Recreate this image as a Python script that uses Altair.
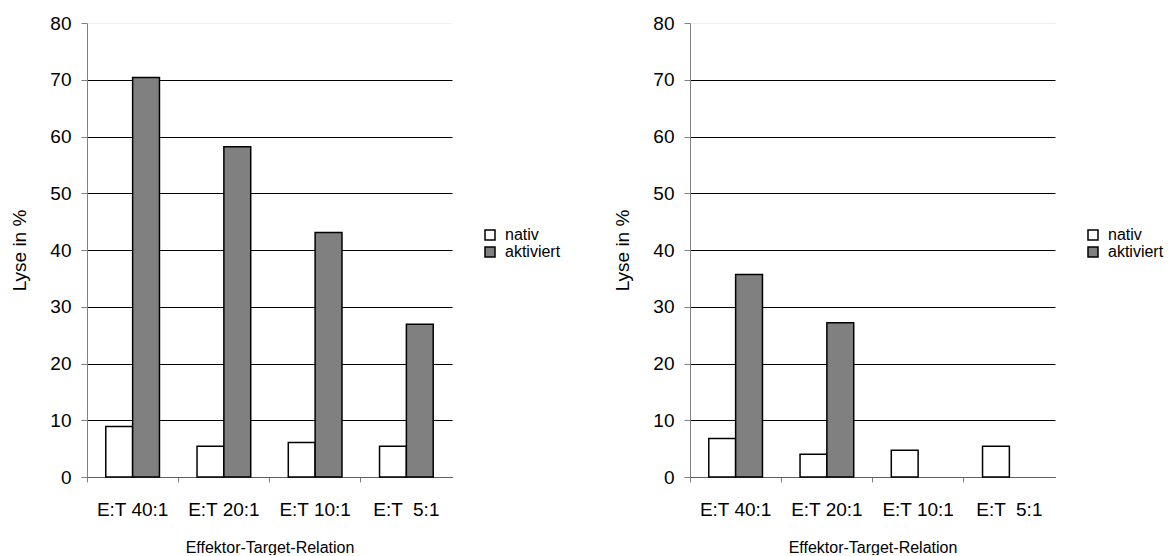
import altair as alt
import pandas as pd

categories = ["E:T 40:1", "E:T 20:1", "E:T 10:1", "E:T \u00a05:1"]
series = ["nativ", "aktiviert"]
left_nativ = [8.9, 5.4, 6.1, 5.4]
left_aktiviert = [70.4, 58.2, 43.1, 26.9]
right_nativ = [6.8, 4.0, 4.7, 5.4]
right_aktiviert = [35.7, 27.2, None, None]
y_ticks = [0, 10, 20, 30, 40, 50, 60, 70, 80]

FONT = "Liberation Sans"
W, H = 365, 454


def make_df(nativ, akt):
    rows = []
    for c, n, a in zip(categories, nativ, akt):
        rows.append({"cat": c, "serie": "nativ", "val": n})
        rows.append({"cat": c, "serie": "aktiviert", "val": a})
    return pd.DataFrame(rows)


def panel(nativ, akt):
    df = make_df(nativ, akt)
    return alt.Chart(df).mark_bar(stroke="black", strokeWidth=1.5).encode(
        x=alt.X(
            "cat:N",
            sort=categories,
            scale=alt.Scale(paddingInner=0, paddingOuter=0),
            axis=alt.Axis(
                title="Effektor-Target-Relation",
                labelAngle=0,
                bandPosition=0,
                labelFontSize=19,
                labelPadding=18,
                labelColor="black",
                tickColor="#808080",
                tickSize=5,
                domainColor="#606060",
                titleFontSize=16,
                titleFontWeight="normal",
                titlePadding=20,
                titleColor="black",
                grid=False,
            ),
        ),
        xOffset=alt.XOffset(
            "serie:N",
            sort=series,
            scale=alt.Scale(paddingInner=0, paddingOuter=0.7),
        ),
        y=alt.Y(
            "val:Q",
            scale=alt.Scale(domain=[0, 80], nice=False),
            axis=alt.Axis(
                title="Lyse in %",
                values=y_ticks,
                labelFontSize=19,
                labelPadding=10,
                labelColor="black",
                tickColor="#808080",
                tickSize=6,
                domainColor="#808080",
                titleFontSize=19,
                titleFontWeight="normal",
                titlePadding=20,
                titleColor="black",
                grid=True,
                gridColor=alt.condition("datum.value == 80", alt.value("#eeeeee"), alt.value("black")),
                gridWidth=1,
            ),
        ),
        color=alt.Color(
            "serie:N",
            sort=series,
            scale=alt.Scale(domain=series, range=["white", "#808080"]),
            legend=alt.Legend(
                title=None,
                orient="none",
                legendX=395,
                legendY=204,
                symbolType="square",
                symbolSize=100,
                symbolStrokeColor="black",
                symbolStrokeWidth=1.5,
                labelFontSize=16,
                labelColor="black",
                rowPadding=1,
                labelOffset=7,
            ),
        ),
    ).properties(width=W, height=H)


chart = alt.hconcat(
    panel(left_nativ, left_aktiviert),
    panel(right_nativ, right_aktiviert),
    spacing=52,
).resolve_legend(color="independent").configure(
    font=FONT,
).configure_view(stroke=None).properties(padding={"left": 2, "top": 6, "right": 0, "bottom": 0})

chart.save("out.html", embed_options={"renderer": "svg", "actions": False})
